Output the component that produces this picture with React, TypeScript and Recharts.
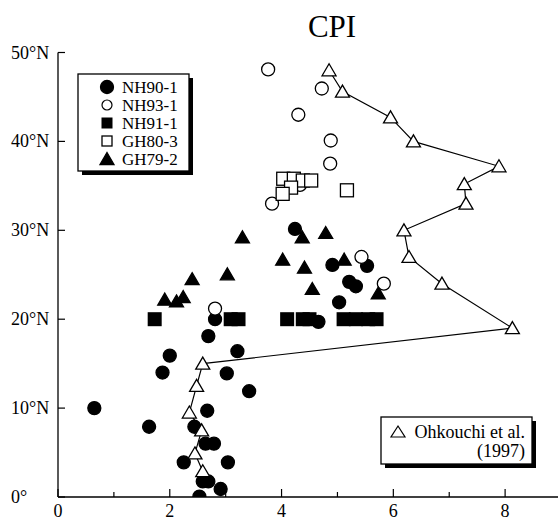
import { ScatterChart, Scatter, XAxis, YAxis } from 'recharts';

const FONT = '"Liberation Serif", "Times New Roman", serif';

// axis ticks
const xTicks = [0, 1, 2, 3, 4, 5, 6, 7, 8, 9];
const xLabelTicks = [0, 2, 4, 6, 8];
const yTicks = [0, 10, 20, 30, 40, 50];
const yLabels = ['0°', '10°N', '20°N', '30°N', '40°N', '50°N'];

// CPI vs latitude, one list per core
const nh90 = [
  { x: 0.65, y: 10.0 }, { x: 1.63, y: 7.9 }, { x: 2.0, y: 15.9 }, { x: 1.87, y: 14.0 },
  { x: 2.69, y: 18.1 }, { x: 3.21, y: 16.4 }, { x: 3.02, y: 13.9 }, { x: 3.42, y: 11.9 },
  { x: 2.67, y: 9.7 }, { x: 2.44, y: 7.9 }, { x: 2.64, y: 6.0 }, { x: 2.79, y: 6.0 },
  { x: 2.25, y: 3.9 }, { x: 3.04, y: 3.9 }, { x: 2.59, y: 1.75 }, { x: 2.69, y: 1.75 },
  { x: 2.91, y: 0.9 }, { x: 2.53, y: 0.05 }, { x: 2.81, y: 20.0 }, { x: 4.24, y: 30.15 },
  { x: 4.91, y: 26.1 }, { x: 5.53, y: 26.0 }, { x: 5.21, y: 24.2 }, { x: 5.33, y: 23.7 },
  { x: 5.03, y: 21.9 }, { x: 4.66, y: 19.7 },
];

const nh93 = [
  { x: 3.76, y: 48.1 }, { x: 4.72, y: 45.95 }, { x: 4.3, y: 43.0 }, { x: 4.88, y: 40.1 },
  { x: 4.87, y: 37.5 }, { x: 3.83, y: 33.0 }, { x: 4.33, y: 35.1 }, { x: 5.43, y: 27.0 },
  { x: 5.83, y: 24.0 }, { x: 2.81, y: 21.2 },
];

const nh91 = [
  { x: 1.73, y: 20 }, { x: 3.09, y: 20 }, { x: 3.23, y: 20 }, { x: 4.1, y: 20 },
  { x: 4.38, y: 20 }, { x: 4.5, y: 20 }, { x: 5.11, y: 20 }, { x: 5.33, y: 20 },
  { x: 5.55, y: 20 }, { x: 5.7, y: 20 },
];

const gh80 = [
  { x: 4.03, y: 35.8 }, { x: 4.22, y: 35.8 }, { x: 4.38, y: 35.6 }, { x: 4.53, y: 35.6 },
  { x: 4.17, y: 34.8 }, { x: 4.02, y: 34.1 }, { x: 5.17, y: 34.5 },
];

const gh79 = [
  { x: 3.3, y: 29.2 }, { x: 2.4, y: 24.5 }, { x: 3.03, y: 25.05 }, { x: 1.91, y: 22.2 },
  { x: 2.12, y: 22.0 }, { x: 2.24, y: 22.5 }, { x: 4.37, y: 29.2 }, { x: 4.79, y: 29.7 },
  { x: 4.02, y: 26.7 }, { x: 4.41, y: 25.8 }, { x: 4.55, y: 23.4 }, { x: 5.12, y: 26.7 },
  { x: 5.73, y: 22.9 },
];

// Ohkouchi et al. (1997), joined north to south
const ohkouchi = [
  { x: 4.85, y: 48.0 }, { x: 5.09, y: 45.6 }, { x: 5.95, y: 42.7 }, { x: 6.36, y: 40.0 },
  { x: 7.89, y: 37.2 }, { x: 7.27, y: 35.2 }, { x: 7.3, y: 33.0 }, { x: 6.19, y: 30.0 },
  { x: 6.28, y: 27.0 }, { x: 6.87, y: 24.0 }, { x: 8.13, y: 19.0 }, { x: 2.59, y: 15.0 },
  { x: 2.48, y: 12.5 }, { x: 2.35, y: 9.5 }, { x: 2.57, y: 7.5 }, { x: 2.45, y: 4.9 },
  { x: 2.59, y: 2.9 },
];

const SW = 1.3;

const circle = (filled: boolean) => (p: any) =>
  <circle cx={p.cx} cy={p.cy} r={6.5} fill={filled ? '#000' : '#fff'} stroke="#000" strokeWidth={SW} />;
const square = (filled: boolean, s: number) => (p: any) =>
  <rect x={p.cx - s / 2} y={p.cy - s / 2} width={s} height={s} fill={filled ? '#000' : '#fff'} stroke="#000" strokeWidth={filled ? 0 : SW} />;
const triangle = (filled: boolean) => (p: any) =>
  <polygon points={`${p.cx},${p.cy - 6.5} ${p.cx + 7},${p.cy + 5.5} ${p.cx - 7},${p.cy + 5.5}`} fill={filled ? '#000' : '#fff'} stroke="#000" strokeWidth={SW} strokeLinejoin="miter" />;

const BottomTick = (p: any) => {
  const v = p.payload.value;
  const major = v % 2 === 0;
  return (
    <g>
      <line x1={p.x} y1={p.y} x2={p.x} y2={p.y - (major ? 8 : 5)} stroke="#000" strokeWidth={1.2} />
      {xLabelTicks.includes(v) && (
        <text x={p.x} y={p.y + 20} textAnchor="middle" fontSize={18} fontFamily={FONT} fill="#000">{v}</text>
      )}
    </g>
  );
};

const TopTick = (p: any) => {
  const major = p.payload.value % 2 === 0;
  return <line x1={p.x} y1={p.y} x2={p.x} y2={p.y + (major ? 8 : 5)} stroke="#000" strokeWidth={1.2} />;
};

const LeftTick = (p: any) => {
  const i = yTicks.indexOf(p.payload.value);
  return (
    <g>
      <line x1={p.x} y1={p.y} x2={p.x + 7} y2={p.y} stroke="#000" strokeWidth={1.2} />
      <text x={p.x - 47} y={p.y + 6} textAnchor="start" fontSize={18} fontFamily={FONT} fill="#000">{yLabels[i]}</text>
    </g>
  );
};

const RightTick = (p: any) =>
  <line x1={p.x} y1={p.y} x2={p.x - 8} y2={p.y} stroke="#000" strokeWidth={1.2} />;

const legendRows = [
  { name: 'NH90-1', icon: circle(true) },
  { name: 'NH93-1', icon: (p: any) => <circle cx={p.cx} cy={p.cy} r={5} fill="#fff" stroke="#000" strokeWidth={1.2} /> },
  { name: 'NH91-1', icon: square(true, 11) },
  { name: 'GH80-3', icon: square(false, 10) },
  { name: 'GH79-2', icon: triangle(true) },
];

export default function App() {
  return (
    <div style={{ position: 'absolute', left: 0, top: 0, width: 558, height: 524, overflow: 'hidden', background: '#fff' }}>
      <ScatterChart width={566} height={524} margin={{ top: 52.5, right: 5, bottom: 0, left: 0 }}>
        <XAxis xAxisId="b" dataKey="x" type="number" domain={[0, 9]} ticks={xTicks} interval={0}
          orientation="bottom" height={27} tickSize={0} tickMargin={0} allowDataOverflow
          axisLine={{ stroke: '#000', strokeWidth: 1.3 }} tickLine={false} tick={BottomTick} />
        <XAxis xAxisId="t" dataKey="x" type="number" domain={[0, 9]} ticks={xTicks} interval={0}
          orientation="top" height={0} tickSize={0} tickMargin={0} allowDataOverflow
          axisLine={{ stroke: '#000', strokeWidth: 1.3 }} tickLine={false} tick={TopTick} />
        <YAxis yAxisId="l" dataKey="y" type="number" domain={[0, 50]} ticks={yTicks} interval={0}
          orientation="left" width={58} tickSize={0} tickMargin={0} allowDataOverflow
          axisLine={{ stroke: '#000', strokeWidth: 1.3 }} tickLine={false} tick={LeftTick} />
        <YAxis yAxisId="r" dataKey="y" type="number" domain={[0, 50]} ticks={yTicks} interval={0}
          orientation="right" width={0} tickSize={0} tickMargin={0} allowDataOverflow
          axisLine={{ stroke: '#000', strokeWidth: 1.3 }} tickLine={false} tick={RightTick} />

        <Scatter name="NH90-1" data={nh90} xAxisId="b" yAxisId="l" shape={circle(true)} isAnimationActive={false} />
        <Scatter name="NH93-1" data={nh93} xAxisId="b" yAxisId="l" shape={circle(false)} isAnimationActive={false} />
        <Scatter name="NH91-1" data={nh91} xAxisId="b" yAxisId="l" shape={square(true, 14)} isAnimationActive={false} />
        <Scatter name="GH80-3" data={gh80} xAxisId="b" yAxisId="l" shape={square(false, 13)} isAnimationActive={false} />
        <Scatter name="GH79-2" data={gh79} xAxisId="b" yAxisId="l" shape={triangle(true)} isAnimationActive={false} />
        <Scatter name="Ohkouchi et al. (1997)" data={ohkouchi} xAxisId="b" yAxisId="l" shape={triangle(false)}
          line={{ stroke: '#000', strokeWidth: 1.2 }} lineType="joint" isAnimationActive={false} />
      </ScatterChart>

      {/* title and the two legend boxes */}
      <svg width={558} height={524} style={{ position: 'absolute', left: 0, top: 0, pointerEvents: 'none' }}>
        <text x={332} y={37} textAnchor="middle" fontSize={31} fontFamily={FONT} fill="#000">CPI</text>

        <rect x={82} y={78} width={111} height={97} fill="#000" />
        <rect x={78} y={74} width={111} height={97} fill="#fff" stroke="#000" strokeWidth={1.3} />
        {legendRows.map((r, i) => (
          <g key={r.name}>
            {r.icon({ cx: 107, cy: 87 + i * 18 })}
            <text x={122} y={93 + i * 18} fontSize={17} fontFamily={FONT} fill="#000">{r.name}</text>
          </g>
        ))}

        <rect x={385} y={421} width={151} height={47} fill="#000" />
        <rect x={381} y={417} width={151} height={47} fill="#fff" stroke="#000" strokeWidth={1.3} />
        <polygon points="398,426 405,437 391,437" fill="#fff" stroke="#000" strokeWidth={1.2} />
        <text x={525} y={438} textAnchor="end" fontSize={18} fontFamily={FONT} fill="#000">Ohkouchi et al.</text>
        <text x={525} y={457} textAnchor="end" fontSize={18} fontFamily={FONT} fill="#000">(1997)</text>
      </svg>
    </div>
  );
}
